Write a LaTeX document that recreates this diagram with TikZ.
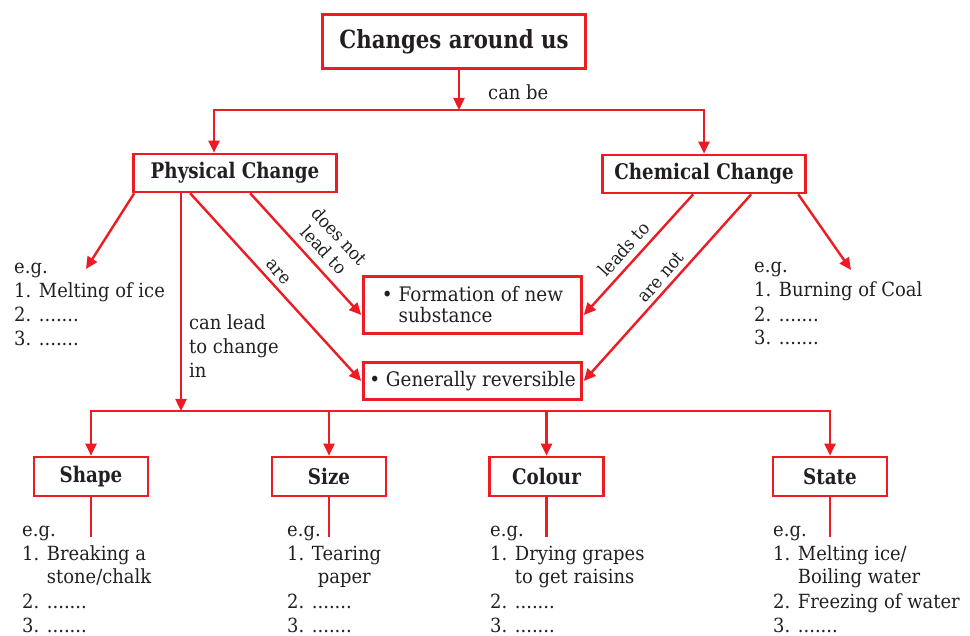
\documentclass[tikz,border=0pt]{standalone}
\usepackage{fontspec}
\setmainfont{DejaVu Serif}[FakeStretch=0.92]
\newfontfamily\bfam{DejaVu Serif}[FakeStretch=0.85]
\usetikzlibrary{arrows.meta,calc}
\definecolor{cred}{RGB}{237,28,36}
\definecolor{ctext}{RGB}{35,31,32}
\begin{document}
\begin{tikzpicture}[x=1pt,y=-1pt,
  box/.style={draw=cred,line width=2.6pt,inner sep=0pt,text=ctext},
  conn/.style={draw=cred,line width=2.4pt},
  arr/.style={conn,-{Triangle[length=12pt,width=11pt]}},
  hline/.style={conn,shorten <=-1.2pt,shorten >=-1.2pt},
  txt/.style={anchor=base west,inner sep=0pt,text=ctext,font=\fontsize{19.5}{23}\selectfont},
  lab/.style={inner sep=0pt,text=ctext,align=center,font=\fontsize{18}{21}\selectfont},
  bt/.style={font=\bfam\bfseries\fontsize{21.5}{24}\selectfont},
  rt/.style={font=\fontsize{20}{21}\selectfont},
  botbox/.style={box,bt,minimum width=114pt,minimum height=39pt}
]
\useasboundingbox (0,0) rectangle (970,636);

% boxes
\node[box,minimum width=263pt,minimum height=54pt,font=\bfam\bfseries\fontsize{25}{28}\selectfont] (top) at (454,41.5) {Changes around us};
\node[box,bt,minimum width=203pt,minimum height=38pt] (phys) at (235,173) {Physical Change};
\node[box,bt,minimum width=203pt,minimum height=38pt] (chem) at (704,174) {Chemical Change};
\node[box,rt,align=left,minimum width=218pt,minimum height=57pt] (form) at (472.5,305) {• Formation of new\\\hphantom{• }substance};
\node[box,rt,minimum width=218pt,minimum height=37pt] (rev) at (472.5,381) {• Generally reversible};
\node[botbox] (shape) at (91,476.5) {Shape};
\node[botbox] (size) at (329,476.5) {Size};
\node[botbox] (colour) at (546.5,476.5) {Colour};
\node[botbox] (state) at (830,476.5) {State};

% coordinates
\coordinate (s1) at (459,110);
\coordinate (L1) at (214,110);
\coordinate (R1) at (704,110);
\coordinate (L2) at (181,411);
\coordinate (egL) at (86,269);
\coordinate (egR) at (851,270);
\coordinate (stem) at (0,537);

% top connectors
\draw[arr] (top.south -| s1) -- (s1);
\draw[hline] (L1) -- (R1);
\draw[arr] (L1) -- (L1 |- phys.north);
\draw[arr] (R1) -- (R1 |- chem.north);
\node[txt] (canbe) at (488,100) {can be};

% physical change connectors
\draw[arr] ([xshift=2pt]phys.south west) -- (egL);
\draw[arr] (phys.south -| L2) -- (L2);
\draw[arr] ([xshift=58pt]phys.south west) -- ([xshift=-1pt]rev.west);
\draw[arr] ([xshift=118pt]phys.south west) -- ([xshift=-1pt,yshift=-10pt]form.west);
\node[lab,rotate=-47] (dnl) at (332,243) {does not\\lead to};
\node[lab,rotate=-48.5] (are) at (278,272) {are};
\node[txt] (cl1) at (189,330) {can lead};
\node[txt] (cl2) at (189,354) {to change};
\node[txt] (cl3) at (189,378) {in};

% chemical change connectors
\draw[arr] ([xshift=92pt]chem.south west) -- ([xshift=1pt,yshift=-10pt]form.east);
\draw[arr] ([xshift=150pt]chem.south west) -- ([xshift=1pt]rev.east);
\draw[arr] ([xshift=197pt]chem.south west) -- (egR);
\node[lab,rotate=48] (lt) at (624,249) {leads to};
\node[lab,rotate=49] (an) at (661,277) {are not};

% examples
\node[txt] (pe0) at (14,274) {e.g.};
\node[txt] (pe1) at (14,298) {1. Melting of ice};
\node[txt] (pe2) at (14,322) {2. .......};
\node[txt] (pe3) at (14,346) {3. .......};
\node[txt] (ce0) at (754,273) {e.g.};
\node[txt] (ce1) at (754,297) {1. Burning of Coal};
\node[txt] (ce2) at (754,322) {2. .......};
\node[txt] (ce3) at (754,345) {3. .......};

% bottom tree
\draw[hline] (shape.north |- L2) -- (state.north |- L2);
\foreach \n in {shape,size,colour,state}{
  \draw[arr] (\n.north |- L2) -- (\n.north);
  \draw[conn] (\n.south) -- (\n.south |- stem);
}

\node[txt] (sh0) at (22,536) {e.g.};
\node[txt] (sh1) at (22,560) {1. Breaking a};
\node[txt] (sh2) at (22,583) {\hphantom{1. }stone/chalk};
\node[txt] (sh3) at (22,608) {2. .......};
\node[txt] (sh4) at (22,632) {3. .......};

\node[txt] (si0) at (287,536) {e.g.};
\node[txt] (si1) at (287,560) {1. Tearing};
\node[txt] (si2) at (287,583) {\hphantom{1. }\hspace{6pt}paper};
\node[txt] (si3) at (287,608) {2. .......};
\node[txt] (si4) at (287,632) {3. .......};

\node[txt] (co0) at (490,536) {e.g.};
\node[txt] (co1) at (490,560) {1. Drying grapes};
\node[txt] (co2) at (490,583) {\hphantom{1. }to get raisins};
\node[txt] (co3) at (490,608) {2. .......};
\node[txt] (co4) at (490,632) {3. .......};

\node[txt] (st0) at (773,536) {e.g.};
\node[txt] (st1) at (773,560) {1. Melting ice/};
\node[txt] (st2) at (773,583) {\hphantom{1. }Boiling water};
\node[txt] (st3) at (773,608) {2. Freezing of water};
\node[txt] (st4) at (773,632) {3. .......};
\end{tikzpicture}
\end{document}
